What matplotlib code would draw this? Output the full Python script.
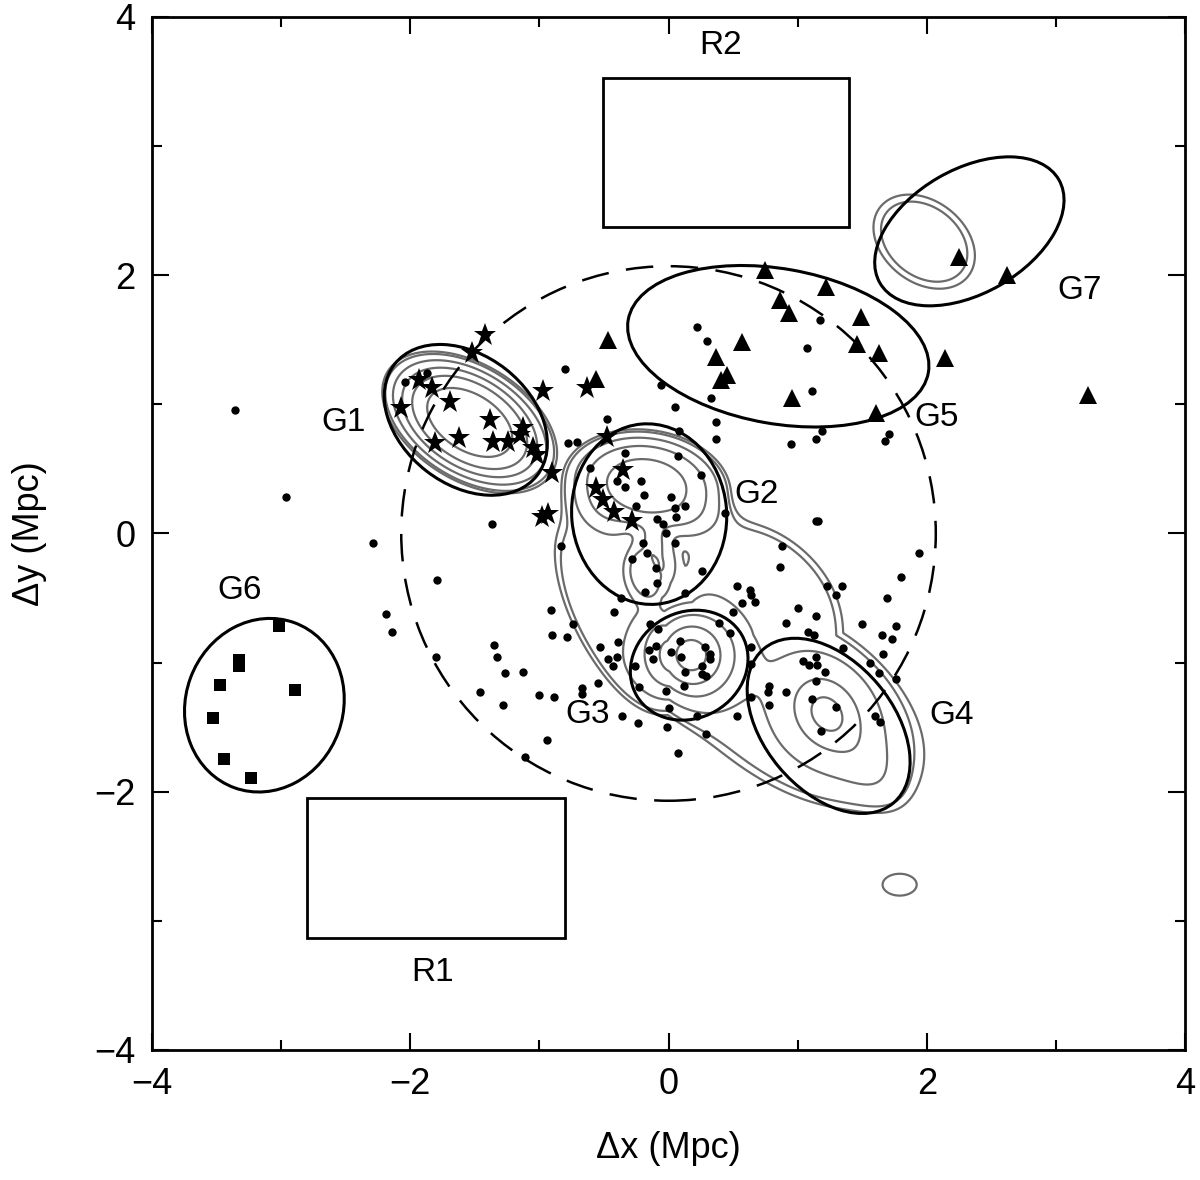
import numpy as np
import matplotlib
matplotlib.use('Agg')
import matplotlib.pyplot as plt
from matplotlib.patches import Ellipse, Rectangle, Circle

plt.rcParams['font.family'] = ['Liberation Sans', 'DejaVu Sans']

# --- galaxy positions (Mpc) ---
star_x = [-1.42, -1.52, -1.93, -1.83, -2.07, -1.69, -0.97, -1.38, -1.13, -1.81, -1.62, -1.36, -1.24,
          -1.15, -1.05, -1.02, -0.90, -0.98, -0.93, -0.48, -0.63, -0.56, -0.51, -0.42, -0.28, -0.35]
star_y = [1.54, 1.40, 1.19, 1.13, 0.97, 1.02, 1.10, 0.88, 0.82, 0.70, 0.74, 0.71, 0.71,
          0.76, 0.66, 0.61, 0.47, 0.13, 0.15, 0.75, 1.13, 0.35, 0.26, 0.17, 0.10, 0.49]

tri_x = [0.75, 1.22, 0.86, 0.93, 1.49, 0.57, 1.46, 1.63, 0.37, 0.45, 0.41, 0.96, 1.61, -0.47,
         2.14, 2.25, 2.62, 3.25, -0.56]
tri_y = [2.04, 1.91, 1.81, 1.71, 1.68, 1.48, 1.47, 1.40, 1.37, 1.23, 1.19, 1.05, 0.93, 1.50,
         1.36, 2.14, 2.00, 1.07, 1.20]

sq_x = [-3.02, -3.33, -3.33, -3.47, -2.89, -3.53, -3.44, -3.23]
sq_y = [-0.72, -0.98, -1.03, -1.17, -1.21, -1.43, -1.75, -1.89]

dot_x = [-1.87, -2.04, -0.80, -0.48, -0.78, -0.71, -0.61, -1.37, 0.05, 0.37, 0.37, 0.08, -0.34, 0.07,
         0.25, -0.40, -0.34, -0.21, -0.19, 0.02, 0.05, 0.13, -0.25, 0.06, -0.09, -0.04, -0.02, 0.05,
         -0.20, -0.17, -0.28, -0.83, -0.10, -0.09, 0.26, -0.18, 0.13, -0.37, 0.44, -0.91, -0.42, 0.53,
         0.63, 0.64, 0.57, 0.67, 0.50, -0.74, -0.90, -0.79, -0.39, -0.53, -0.47, -0.40, -0.43, -0.55,
         -0.67, -0.67, -1.00, -0.89, -0.36, -0.24, -0.94, -0.01, 0.07, 0.29, 0.53, 0.64, 0.64, 0.64,
         -0.14, -0.08, -0.10, -0.15, -0.12, -0.26, -0.23, -0.02, 0.00, 0.22, 0.12, 0.39, 0.48, 0.09,
         0.02, 0.10, 0.13, 0.28, 0.32, 0.32, 0.26, 0.26, 0.29, 0.91, 1.08, 1.13, 1.50, 1.76, 1.65,
         1.73, 1.66, 1.35, 1.56, 1.63, 1.76, 1.04, 1.09, 1.15, 1.14, 1.21, 1.14, 0.78, 0.77, 0.91,
         1.11, 0.78, 1.30, 1.18, 1.60, 1.64, 0.22, 0.30, 1.17, 1.07, 1.11, -0.06, 0.33, 0.95, 1.14,
         1.19, 1.71, 1.68, -2.29, -1.79, -2.19, -2.14, -1.80, -1.35, -1.33, -1.27, -1.13, -1.46,
         -1.28, -1.11, 1.14, 1.16, 0.88, 0.86, 1.94, 1.80, 1.69, 1.23, 1.34, 1.30, 1.00, 1.14,
         -3.36, -2.96]
dot_y = [1.24, 1.17, 1.27, 0.89, 0.70, 0.71, 0.51, 0.07, 0.98, 0.86, 0.73, 0.79, 0.62, 0.60,
         0.45, 0.41, 0.36, 0.41, 0.30, 0.28, 0.20, 0.21, 0.21, 0.13, 0.11, 0.07, 0.00, -0.07,
         -0.07, -0.15, -0.20, -0.10, -0.27, -0.38, -0.29, -0.45, -0.46, -0.50, 0.16, -0.59, -0.61, -0.41,
         -0.44, -0.48, -0.54, -0.53, -0.61, -0.70, -0.79, -0.80, -0.84, -0.88, -0.97, -0.96, -1.03, -1.16,
         -1.20, -1.24, -1.25, -1.27, -1.41, -1.47, -1.60, -1.50, -1.70, -1.55, -1.41, -1.27, -1.01, -0.88,
         -0.70, -0.74, -0.87, -0.90, -0.97, -1.03, -1.19, -1.22, -1.35, -1.41, -1.18, -0.69, -0.77, -0.83,
         -0.92, -0.96, -1.07, -0.88, -0.93, -0.97, -1.03, -1.09, -1.10, -0.69, -0.76, -0.79, -0.70, -0.72, -0.79,
         -0.82, -0.93, -0.89, -1.00, -1.08, -1.13, -0.99, -1.02, -1.02, -0.96, -1.07, -1.14, -1.18, -1.23, -1.23,
         -1.28, -1.33, -1.34, -1.53, -1.41, -1.46, 1.60, 1.49, 1.65, 1.44, 1.10, 1.15, 1.05, 0.69, 0.73,
         0.79, 0.77, 0.72, -0.07, -0.36, -0.62, -0.76, -0.96, -0.86, -0.96, -1.08, -1.07, -1.23,
         -1.33, -1.73, 0.10, 0.10, -0.10, -0.26, -0.15, -0.34, -0.50, -0.41, -0.41, -0.48, -0.58, -0.64,
         0.96, 0.28]

# --- group ellipses: centre, full axes, angle ---
grp_names = ['G1', 'G2', 'G3', 'G4', 'G5', 'G6', 'G7']
grp_cx = [-1.57, -0.15, 0.16, 1.24, 0.85, -3.13, 2.33]
grp_cy = [0.88, 0.15, -1.02, -1.49, 1.45, -1.33, 2.34]
grp_w = [1.40, 1.40, 0.94, 1.56, 2.36, 1.36, 1.60]
grp_h = [1.00, 1.20, 0.82, 1.00, 1.20, 1.22, 0.96]
grp_ang = [-38, 95, 30, -50, -10, 70, 30]
lab_x = [-2.52, 0.68, -0.63, 2.19, 2.08, -3.32, 3.18]
lab_y = [0.86, 0.30, -1.40, -1.41, 0.90, -0.44, 1.88]

# --- control regions ---
reg_names = ['R1', 'R2']
reg_x0 = [-2.80, -0.51]
reg_x1 = [-0.80, 1.40]
reg_y0 = [-3.13, 2.37]
reg_y1 = [-2.05, 3.53]
reg_lab_x = [-1.83, 0.40]
reg_lab_y = [-3.40, 3.78]

circle_r = 2.07

# --- density map: low-level envelope of the G2-G3-G4 chain (pieces combined by max) ---
env_cx = [0.94, -0.42, 0.72]
env_cy = [-1.29, -0.59, -0.48]
env_sa = [1.16, 0.80, 0.70]
env_sb = [0.64, 0.34, 0.48]
env_ang = [-33, -64, -40]
env_amp = [1.6, 1.6, 1.6]

# --- density map: peaks of the chain (G2 core, G2 tail, G3, G4, G4 tail), summed on the envelope ---
den_cx = [-0.17, -0.13, 0.16, 1.22, 1.56]
den_cy = [0.37, -0.25, -0.94, -1.39, -1.83]
den_sa = [0.50, 0.22, 0.24, 0.21, 0.30]
den_sb = [0.33, 0.16, 0.24, 0.17, 0.15]
den_ang = [-8, 88, 0, -55, -55]
den_amp = [4.3, 2.8, 4.0, 3.0, 0.5]
den_pow = [4, 4, 2, 1.5, 2]

# --- density map: isolated clumps (G1, G7, small clump) ---
iso_cx = [-1.54, 1.98, 1.79]
iso_cy = [0.86, 2.26, -2.72]
iso_sa = [0.55, 0.44, 0.25]
iso_sb = [0.33, 0.32, 0.16]
iso_ang = [-32, -38, 0]
iso_amp = [5.5, 1.6, 1.15]
iso_pow = [4, 4, 2]

den_levels = [1.0, 1.25, 2.0, 3.0, 4.0, 5.0]


def blob(X, Y, cx, cy, sa, sb, ang, amp, pw):
    t = np.deg2rad(ang)
    u = (X - cx) * np.cos(t) + (Y - cy) * np.sin(t)
    v = -(X - cx) * np.sin(t) + (Y - cy) * np.cos(t)
    r = np.sqrt((u / sa) ** 2 + (v / sb) ** 2)
    return amp * np.exp(-0.5 * r ** pw)


fig = plt.figure(figsize=(12, 11.8), dpi=100)
ax = fig.add_axes([0.1267, 0.1102, 0.8608, 0.8754])

gx = np.linspace(-4, 4, 801)
X, Y = np.meshgrid(gx, gx)
Z = np.zeros_like(X)
for p in zip(env_cx, env_cy, env_sa, env_sb, env_ang, env_amp):
    Z = np.maximum(Z, blob(X, Y, *p, 6))
for p in zip(den_cx, den_cy, den_sa, den_sb, den_ang, den_amp, den_pow):
    Z += blob(X, Y, *p)
for p in zip(iso_cx, iso_cy, iso_sa, iso_sb, iso_ang, iso_amp, iso_pow):
    Z = np.maximum(Z, blob(X, Y, *p))
ax.contour(X, Y, Z, levels=den_levels, colors='#6b6b6b', linewidths=1.6, zorder=2)

ax.add_patch(Circle((0, 0), circle_r, fill=False, ls=(0, (11, 7)), lw=1.8, color='black', zorder=3))

for cx, cy, w, h, a in zip(grp_cx, grp_cy, grp_w, grp_h, grp_ang):
    ax.add_patch(Ellipse((cx, cy), w, h, angle=a, fill=False, lw=2.2, color='black', zorder=3))
for name, x, y in zip(grp_names, lab_x, lab_y):
    ax.text(x, y, name, fontsize=24, ha='center', va='center')

for x0, x1, y0, y1 in zip(reg_x0, reg_x1, reg_y0, reg_y1):
    ax.add_patch(Rectangle((x0, y0), x1 - x0, y1 - y0, fill=False, lw=2.0, color='black', zorder=3))
for name, x, y in zip(reg_names, reg_lab_x, reg_lab_y):
    ax.text(x, y, name, fontsize=24, ha='center', va='center')

ax.plot(dot_x, dot_y, 'o', color='black', ms=6, mew=0, zorder=4)
ax.plot(star_x, star_y, '*', color='black', ms=17, mew=0, zorder=5)
ax.plot(tri_x, tri_y, '^', color='black', ms=13, mew=0, zorder=5)
ax.plot(sq_x, sq_y, 's', color='black', ms=8.5, mew=0, zorder=5)

ax.set_xlim(-4, 4)
ax.set_ylim(-4, 4)
ax.set_xticks([-4, -2, 0, 2, 4])
ax.set_yticks([-4, -2, 0, 2, 4])
ax.set_xticks([-3, -1, 1, 3], minor=True)
ax.set_yticks([-3, -1, 1, 3], minor=True)
ax.tick_params(which='both', direction='in', top=True, right=True, labelsize=26, width=1.5, pad=12)
ax.tick_params(which='major', length=12)
ax.tick_params(which='minor', length=7)
for s in ax.spines.values():
    s.set_linewidth(2.0)
ax.set_xlabel('Δx (Mpc)', fontsize=26, labelpad=21)
ax.set_ylabel('Δy (Mpc)', fontsize=26, labelpad=34)

fig.savefig('out.png', dpi=100)
